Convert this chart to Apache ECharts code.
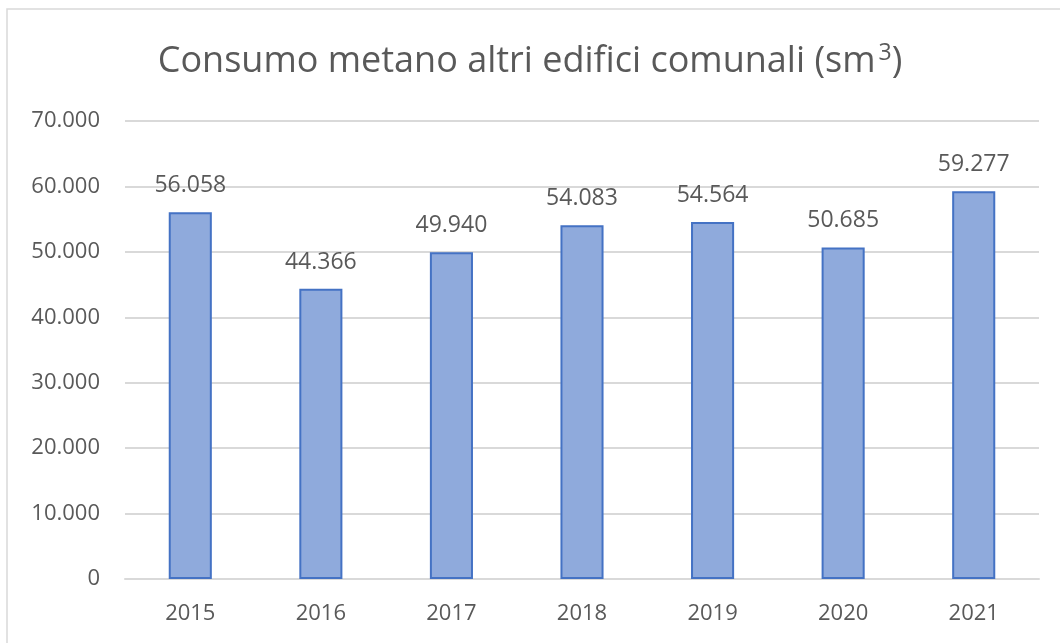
<!DOCTYPE html>
<html>
<head>
<meta charset="utf-8">
<script src="https://cdn.jsdelivr.net/npm/echarts@6/dist/echarts.min.js"></script>
<style>
  html,body{margin:0;padding:0;background:#fff}
  #chart{width:1060px;height:643px}
</style>
</head>
<body>
<div id="chart"></div>
<script>
// dati
const anni = ['2015','2016','2017','2018','2019','2020','2021'];
const consumi = [56058, 44366, 49940, 54083, 54564, 50685, 59277];

// formato italiano: 56.058
function fmt(v){
  return String(v).replace(/\B(?=(\d{3})+(?!\d))/g, '.');
}

const chart = echarts.init(document.getElementById('chart'));
chart.setOption({
  animation:false,
  textStyle:{fontFamily:'"Open Sans", "Noto Sans", sans-serif'},
  title:{
    text:'Consumo metano altri edifici comunali (sm{sup|3})',
    left:'center', top:37,
    textStyle:{
      fontSize:36, fontWeight:'normal', color:'#595959',
      rich:{sup:{fontSize:23, color:'#595959', verticalAlign:'top', padding:[0,0,16,3]}}
    }
  },
  graphic:[{
    type:'rect', silent:true,
    shape:{x:7, y:9, width:1100, height:700},
    style:{fill:'none', stroke:'#D9D9D9', lineWidth:1.5}
  }],
  grid:{left:125, right:21, top:121, bottom:64, containLabel:false},
  xAxis:{
    type:'category', data:anni,
    axisLine:{lineStyle:{color:'#D9D9D9', width:2}},
    axisTick:{show:false},
    axisLabel:{color:'#595959', fontSize:22, margin:24}
  },
  yAxis:{
    type:'value', min:0, max:70000, interval:10000,
    axisLine:{show:false}, axisTick:{show:false},
    splitLine:{lineStyle:{color:'#D9D9D9', width:2}},
    axisLabel:{color:'#595959', fontSize:22, margin:25, formatter:fmt}
  },
  series:[{
    type:'bar', data:consumi, barWidth:'33%',
    itemStyle:{color:'#8FAADC', borderColor:'#4472C4', borderWidth:2},
    label:{show:true, position:'top', distance:15, color:'#595959', fontSize:23,
      formatter:p=>fmt(p.value)}
  }]
});
</script>
</body>
</html>
